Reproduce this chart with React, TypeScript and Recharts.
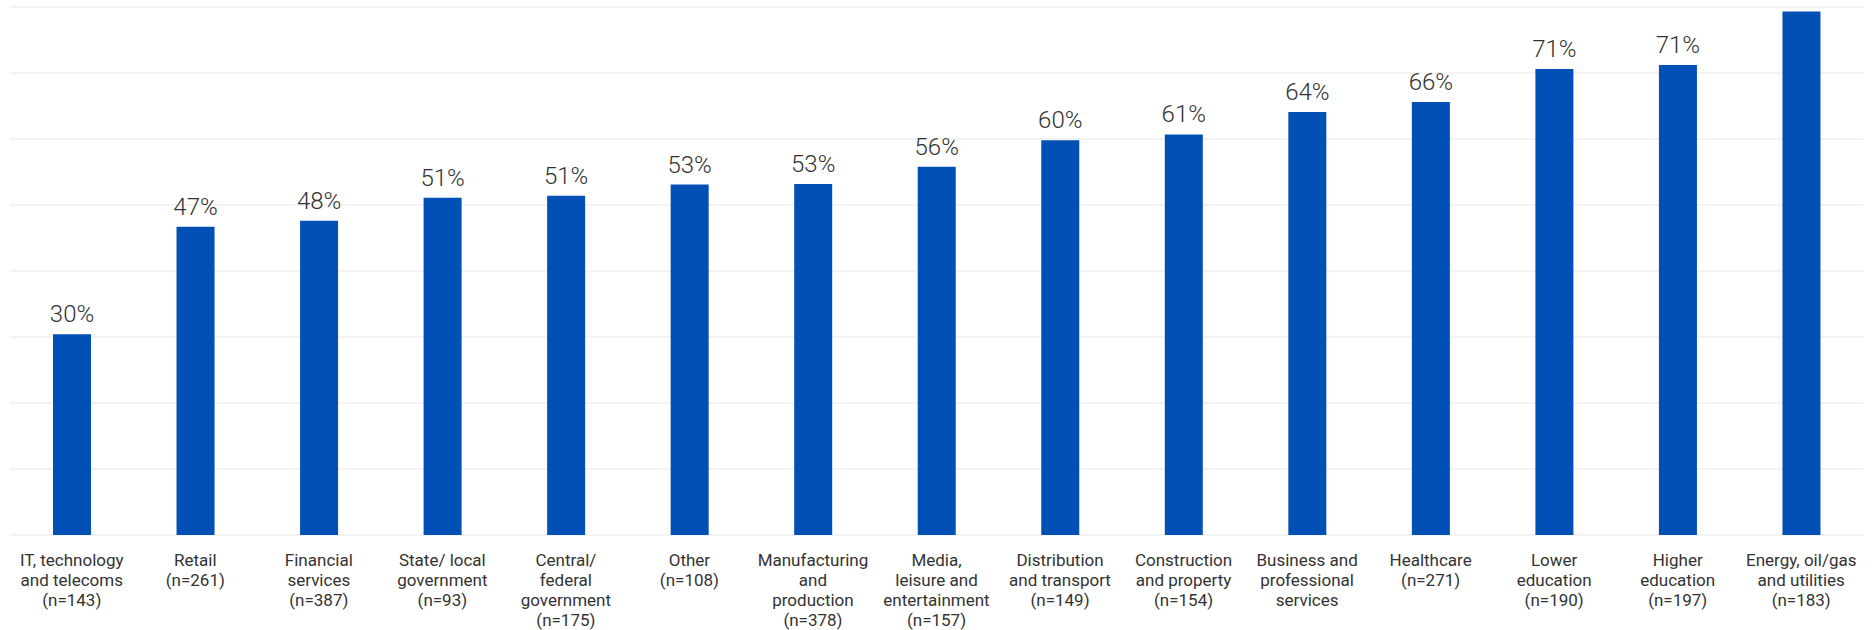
import React from 'react';
import { BarChart, Bar, XAxis, YAxis, CartesianGrid, LabelList } from 'recharts';

// sectors, in the order they appear on the x axis
const categories = [
  'IT, technology and telecoms',
  'Retail',
  'Financial services',
  'State/ local government',
  'Central/ federal government',
  'Other',
  'Manufacturing and production',
  'Media, leisure and entertainment',
  'Distribution and transport',
  'Construction and property',
  'Business and professional services',
  'Healthcare',
  'Lower education',
  'Higher education',
  'Energy, oil/gas and utilities',
];

// how each axis label wraps
const categoryLines = [
  ['IT, technology', 'and telecoms'],
  ['Retail'],
  ['Financial', 'services'],
  ['State/ local', 'government'],
  ['Central/', 'federal', 'government'],
  ['Other'],
  ['Manufacturing', 'and', 'production'],
  ['Media,', 'leisure and', 'entertainment'],
  ['Distribution', 'and transport'],
  ['Construction', 'and property'],
  ['Business and', 'professional', 'services'],
  ['Healthcare'],
  ['Lower', 'education'],
  ['Higher', 'education'],
  ['Energy, oil/gas', 'and utilities'],
];

const sampleSizes = [143, 261, 387, 93, 175, 108, 378, 157, 149, 154, null, 271, 190, 197, 183];

// share of respondents (%)
const values = [30.4, 46.7, 47.6, 51.1, 51.4, 53.1, 53.2, 55.8, 59.8, 60.7, 64.1, 65.6, 70.6, 71.2, 79.3];

const yTicks = [0, 10, 20, 30, 40, 50, 60, 70, 80];

const data = categories.map((name, i) => ({
  name,
  lines: categoryLines[i],
  n: sampleSizes[i],
  value: values[i],
}));

const TEXT = '#333333';
const FONT = 'Roboto, "Open Sans", sans-serif';

const CategoryTick = (props: any) => {
  const { x, y, index } = props;
  const row = data[index];
  const lines = row.n != null ? [...row.lines, `(n=${row.n})`] : row.lines;
  return (
    <text x={x} y={y + 31} textAnchor="middle" fill={TEXT} fontSize={17} fontFamily={FONT}>
      {lines.map((l: string, i: number) => (
        <tspan key={i} x={x} dy={i === 0 ? 0 : 20}>
          {l}
        </tspan>
      ))}
    </text>
  );
};

const ValueLabel = (props: any) => {
  const { x, y, width, value } = props;
  const top = y - 12;
  // labels that would fall outside the picture are cut off
  if (top - 17 < 0) return null;
  return (
    <text
      x={x + width / 2}
      y={top}
      textAnchor="middle"
      fill={TEXT}
      fontSize={24}
      fontWeight={300}
      fontFamily={FONT}
    >
      {`${Math.round(value)}%`}
    </text>
  );
};

const App: React.FC = () => {
  return (
    <div style={{ position: 'absolute', left: 0, top: 0, width: 1874, height: 630, background: '#fff' }}>
      <BarChart
        width={1874}
        height={630}
        data={data}
        margin={{ top: 7, right: 11, left: 10, bottom: 0 }}
        barCategoryGap="34%"
      >
        <CartesianGrid vertical={false} stroke="#efefef" strokeWidth={1.5} />
        <XAxis
          dataKey="name"
          axisLine={false}
          tickLine={false}
          tickSize={0}
          tickMargin={0}
          height={95}
          interval={0}
          tick={<CategoryTick />}
        />
        <YAxis hide domain={[0, 80]} ticks={yTicks} />
        <Bar dataKey="value" fill="#0050b5" barSize={38} isAnimationActive={false}>
          <LabelList dataKey="value" content={<ValueLabel />} />
        </Bar>
      </BarChart>
    </div>
  );
};

export default App;
